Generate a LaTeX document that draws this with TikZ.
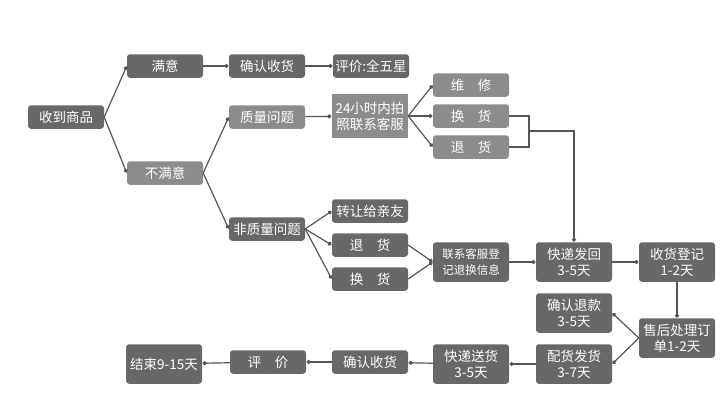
\documentclass[tikz,border=0pt]{standalone}
\usepackage{fontspec}
\setmainfont{Noto Sans CJK SC}
\usepackage{tikz}
\usetikzlibrary{arrows.meta}
\definecolor{boxDark}{RGB}{104, 104, 104}
\definecolor{boxLight}{RGB}{140, 140, 140}
\definecolor{lineG}{RGB}{85, 85, 85}

\begin{document}
\begin{tikzpicture}[x=1pt, y=-1pt, font=\fontsize{13.5}{16}\selectfont,
  box/.style={fill=boxDark, text=white, rounded corners=3pt, minimum width=76pt,
    minimum height=23.5pt, inner sep=1pt, align=center},
  tallbox/.style={box, minimum height=39.5pt},
  litebox/.style={box, fill=boxLight},
  link/.style={lineG, line width=1.2pt, -{Circle[length=4pt]}, shorten >=0.5pt},
  plain/.style={lineG, line width=1.2pt}]
  \useasboundingbox (0,0) rectangle (721,400);
  % first levels
  \node[box] (recv) at (66,117) {收到商品};
  \node[box] (ok) at (165,66) {满意};
  \node[box] (okconfirm) at (267,66) {确认收货};
  \node[box] (okrate) at (371,66) {评价:全五星};
  \node[litebox] (notok) at (165,173) {不满意};
  \node[litebox] (quality) at (267,117) {质量问题};
  \node[litebox, rounded corners=0pt, minimum height=44pt] (photo) at (370,116) {24小时内拍\\照联系客服};
  \node[litebox] (repair) at (471,85) {维\hspace{1em}修};
  \node[litebox] (swapA) at (471,116) {换\hspace{1em}货};
  \node[litebox] (backA) at (471,147) {退\hspace{1em}货};
  \node[box] (other) at (267,229) {非质量问题};
  \node[box] (gift) at (370,211) {转让给亲友};
  \node[box] (backB) at (370,245) {退\hspace{1em}货};
  \node[box] (swapB) at (370,279) {换\hspace{1em}货};
  \node[tallbox, font=\fontsize{11.5}{16}\selectfont] (contact) at (471,262) {联系客服登\\记退换信息};
  % return path
  \node[tallbox] (shipback) at (574,262) {快递发回\\3-5天};
  \node[tallbox] (register) at (677,262) {收货登记\\1-2天};
  \node[tallbox] (service) at (677,338) {售后处理订\\单1-2天};
  \node[tallbox] (refund) at (574,313) {确认退款\\3-5天};
  \node[tallbox] (resend) at (574,364) {配货发货\\3-7天};
  \node[tallbox] (deliver) at (471,364) {快递送货\\3-5天};
  \node[box] (endconfirm) at (370,362) {确认收货};
  \node[box] (endrate) at (268,362) {评\hspace{1em}价};
  \node[tallbox] (finish) at (164,364) {结束9-15天};
  \coordinate (joinA) at (529,131);

  \draw[link] (recv.east) -- (ok.west);
  \draw[link] (recv.east) -- (notok.west);
  \draw[link] (ok) -- (okconfirm);
  \draw[link] (okconfirm) -- (okrate);
  \draw[link] (notok.east) -- (quality.west);
  \draw[link] (notok.east) -- (other.west);
  \draw[link] (quality) -- (photo);
  \draw[link] (photo.east) -- (repair.west);
  \draw[link] (photo.east) -- (swapA.west);
  \draw[link] (photo.east) -- (backA.west);
  \draw[plain] (swapA.east) -| (joinA);
  \draw[plain] (backA.east) -| (joinA);
  \draw[link] (joinA) -| (shipback.north);
  \draw[link] (other.east) -- (gift.west);
  \draw[link] (other.east) -- (backB.west);
  \draw[link] (other.east) -- (swapB.west);
  \draw[link] (backB.east) -- (contact.west);
  \draw[link] (swapB.east) -- (contact.west);
  \draw[link] (contact) -- (shipback);
  \draw[link] (shipback) -- (register);
  \draw[link] (register) -- (service);
  \draw[link] (service.west) -- (refund.east);
  \draw[link] (service.west) -- (resend.east);
  \draw[link] (resend) -- (deliver);
  \draw[link] (deliver) -- (endconfirm);
  \draw[link] (endconfirm) -- (endrate);
  \draw[link] (endrate) -- (finish);
\end{tikzpicture}
\end{document}
